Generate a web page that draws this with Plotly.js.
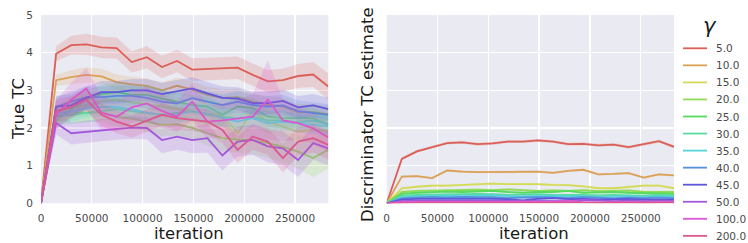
<!DOCTYPE html>
<html>
<head>
<meta charset="utf-8">
<script src="https://cdn.plot.ly/plotly-3.0.1.min.js"></script>
<style>
html,body{margin:0;padding:0;background:#fff;}
#chart{width:748px;height:243px;}
</style>
</head>
<body>
<div id="chart"></div>
<script>
// ---------------- DATA ----------------
const iterations = [0, 14880, 29760, 44640, 59520, 74400, 89280, 104160, 119040, 133920,
  148800, 163680, 178560, 193440, 208320, 223200, 238080, 252960, 267840, 282720];
const gammaLabels = ["5.0", "10.0", "15.0", "20.0", "25.0", "30.0", "35.0", "40.0", "45.0", "50.0", "100.0", "200.0"];
const xTickVals = [0, 50000, 100000, 150000, 200000, 250000];
const xTickText = ["0", "50000", "100000", "150000", "200000", "250000"];
const yTickVals = [0, 1, 2, 3, 4, 5];

// True TC (left panel): mean per gamma
const trueTC_5   = [0, 3.97, 4.20, 4.22, 4.14, 4.12, 3.75, 3.88, 3.62, 3.78, 3.55, 3.56, 3.58, 3.60, 3.41, 3.24, 3.27, 3.38, 3.42, 3.10];
const trueTC_10  = [0, 3.27, 3.35, 3.41, 3.37, 3.22, 3.16, 3.12, 3.00, 3.12, 3.02, 2.88, 2.80, 2.82, 2.70, 2.62, 2.57, 2.42, 2.42, 2.37];
const trueTC_15  = [0, 2.35, 2.55, 2.60, 2.72, 2.75, 2.68, 2.64, 2.57, 2.52, 2.45, 2.38, 2.35, 1.86, 2.45, 2.17, 2.04, 1.90, 1.95, 1.93];
const trueTC_20  = [0, 2.30, 2.42, 2.40, 2.42, 2.30, 2.25, 2.17, 2.08, 2.10, 2.00, 1.86, 1.73, 1.70, 1.68, 1.60, 1.50, 1.37, 1.20, 1.42];
const trueTC_25  = [0, 2.20, 2.50, 2.75, 2.90, 2.95, 2.88, 2.88, 2.78, 2.70, 2.61, 2.57, 2.35, 2.57, 2.53, 2.30, 2.26, 2.26, 2.26, 2.08];
const trueTC_30  = [0, 2.30, 2.35, 2.40, 2.45, 2.50, 2.45, 2.40, 2.35, 2.40, 2.45, 2.35, 2.30, 2.25, 2.30, 2.20, 2.20, 2.15, 2.20, 2.10];
const trueTC_35  = [0, 2.40, 2.42, 2.52, 2.55, 2.55, 2.50, 2.40, 2.35, 2.36, 2.44, 2.38, 2.26, 2.17, 2.26, 2.13, 2.17, 2.13, 2.08, 2.04];
const trueTC_40  = [0, 2.55, 2.70, 2.82, 2.82, 2.85, 2.85, 2.80, 2.70, 2.65, 2.79, 2.70, 2.61, 2.70, 2.61, 2.57, 2.60, 2.45, 2.40, 2.35];
const trueTC_45  = [0, 2.57, 2.60, 2.80, 2.95, 2.95, 3.00, 3.00, 2.90, 2.97, 3.05, 2.92, 2.80, 2.78, 2.66, 2.66, 2.72, 2.55, 2.60, 2.50];
const trueTC_50  = [0, 2.13, 1.86, 1.90, 1.95, 1.99, 2.01, 2.00, 1.68, 1.77, 1.68, 1.73, 1.27, 1.64, 1.68, 1.51, 1.46, 1.15, 1.60, 1.46];
const trueTC_100 = [0, 2.35, 2.75, 3.05, 2.40, 2.30, 2.55, 2.65, 2.45, 2.30, 2.70, 2.17, 2.20, 2.25, 2.30, 2.75, 2.20, 2.13, 1.99, 1.75];
const trueTC_200 = [0, 2.45, 2.55, 2.75, 2.35, 2.17, 2.04, 2.20, 2.35, 2.26, 2.22, 2.17, 1.95, 1.42, 1.77, 1.64, 1.20, 1.64, 1.73, 1.55];

// True TC confidence band half-widths
const trueCI_5   = [0.05, 0.20, 0.25, 0.28, 0.28, 0.28, 0.28, 0.30, 0.30, 0.30, 0.30, 0.30, 0.30, 0.30, 0.30, 0.30, 0.30, 0.32, 0.33, 0.35];
const trueCI_10  = [0.05, 0.15, 0.18, 0.20, 0.20, 0.20, 0.20, 0.20, 0.20, 0.22, 0.22, 0.22, 0.22, 0.22, 0.22, 0.22, 0.22, 0.22, 0.22, 0.22];
const trueCI_15  = [0.05, 0.25, 0.28, 0.30, 0.30, 0.30, 0.30, 0.30, 0.30, 0.30, 0.30, 0.30, 0.30, 0.35, 0.35, 0.30, 0.30, 0.30, 0.30, 0.30];
const trueCI_20  = [0.05, 0.22, 0.25, 0.25, 0.25, 0.25, 0.25, 0.28, 0.30, 0.30, 0.30, 0.32, 0.35, 0.35, 0.38, 0.40, 0.42, 0.45, 0.50, 0.50];
const trueCI_25  = [0.05, 0.22, 0.25, 0.25, 0.25, 0.25, 0.25, 0.25, 0.25, 0.25, 0.25, 0.25, 0.28, 0.28, 0.28, 0.28, 0.28, 0.28, 0.28, 0.30];
const trueCI_30  = [0.05, 0.22, 0.25, 0.25, 0.25, 0.25, 0.25, 0.25, 0.25, 0.25, 0.25, 0.25, 0.25, 0.25, 0.25, 0.25, 0.25, 0.25, 0.25, 0.25];
const trueCI_35  = [0.05, 0.22, 0.25, 0.25, 0.25, 0.25, 0.25, 0.25, 0.25, 0.25, 0.25, 0.25, 0.25, 0.25, 0.25, 0.25, 0.25, 0.25, 0.25, 0.25];
const trueCI_40  = [0.05, 0.25, 0.28, 0.28, 0.28, 0.28, 0.28, 0.28, 0.28, 0.28, 0.28, 0.28, 0.28, 0.28, 0.28, 0.28, 0.28, 0.28, 0.28, 0.28];
const trueCI_45  = [0.05, 0.28, 0.30, 0.30, 0.30, 0.30, 0.30, 0.30, 0.30, 0.30, 0.30, 0.30, 0.30, 0.30, 0.30, 0.30, 0.30, 0.30, 0.30, 0.30];
const trueCI_50  = [0.05, 0.30, 0.30, 0.30, 0.30, 0.30, 0.30, 0.30, 0.35, 0.35, 0.35, 0.38, 0.40, 0.40, 0.40, 0.42, 0.45, 0.45, 0.45, 0.45];
const trueCI_100 = [0.05, 0.40, 0.45, 0.55, 0.45, 0.40, 0.40, 0.45, 0.45, 0.40, 0.50, 0.45, 0.45, 0.50, 0.60, 1.05, 0.55, 0.45, 0.40, 0.40];
const trueCI_200 = [0.05, 0.30, 0.30, 0.30, 0.30, 0.30, 0.30, 0.30, 0.30, 0.30, 0.30, 0.32, 0.35, 0.35, 0.35, 0.35, 0.38, 0.38, 0.38, 0.38];

// Discriminator TC estimate (right panel): mean per gamma
const discTC_5   = [0, 1.18, 1.38, 1.50, 1.60, 1.62, 1.57, 1.59, 1.64, 1.64, 1.67, 1.64, 1.57, 1.58, 1.54, 1.56, 1.49, 1.57, 1.65, 1.50];
const discTC_10  = [0, 0.71, 0.72, 0.67, 0.87, 0.84, 0.83, 0.83, 0.82, 0.84, 0.84, 0.81, 0.86, 0.89, 0.77, 0.78, 0.80, 0.68, 0.77, 0.74];
const discTC_15  = [0, 0.40, 0.44, 0.47, 0.47, 0.49, 0.51, 0.52, 0.51, 0.52, 0.51, 0.49, 0.48, 0.45, 0.40, 0.40, 0.44, 0.47, 0.47, 0.40];
const discTC_20  = [0, 0.30, 0.33, 0.34, 0.33, 0.35, 0.36, 0.35, 0.37, 0.35, 0.33, 0.34, 0.33, 0.35, 0.32, 0.33, 0.34, 0.30, 0.31, 0.30];
const discTC_25  = [0, 0.25, 0.28, 0.30, 0.31, 0.30, 0.32, 0.33, 0.30, 0.28, 0.30, 0.30, 0.33, 0.28, 0.29, 0.30, 0.28, 0.27, 0.26, 0.25];
const discTC_30  = [0, 0.20, 0.22, 0.23, 0.25, 0.24, 0.25, 0.24, 0.22, 0.23, 0.24, 0.22, 0.23, 0.22, 0.21, 0.22, 0.21, 0.20, 0.22, 0.20];
const discTC_35  = [0, 0.16, 0.18, 0.20, 0.20, 0.19, 0.20, 0.21, 0.19, 0.18, 0.19, 0.20, 0.18, 0.19, 0.17, 0.18, 0.19, 0.17, 0.18, 0.17];
const discTC_40  = [0, 0.13, 0.15, 0.16, 0.15, 0.17, 0.16, 0.16, 0.14, 0.15, 0.16, 0.15, 0.14, 0.16, 0.14, 0.13, 0.15, 0.14, 0.15, 0.14];
const discTC_45  = [0, 0.10, 0.12, 0.12, 0.13, 0.12, 0.14, 0.12, 0.11, 0.08, 0.12, 0.14, 0.11, 0.12, 0.10, 0.11, 0.12, 0.10, 0.11, 0.10];
const discTC_50  = [0, 0.06, 0.07, 0.07, 0.08, 0.07, 0.08, 0.07, 0.06, 0.07, 0.08, 0.07, 0.06, 0.09, 0.07, 0.06, 0.07, 0.06, 0.07, 0.06];
const discTC_100 = [0, 0.03, 0.03, 0.04, 0.03, 0.04, 0.03, 0.03, 0.04, 0.03, 0.03, 0.04, 0.07, 0.03, 0.02, 0.03, 0.03, 0.02, 0.03, 0.03];
const discTC_200 = [0, 0.02, 0.02, 0.02, 0.02, 0.02, 0.02, 0.02, 0.02, 0.02, 0.02, 0.02, 0.02, 0.02, 0.02, 0.02, 0.02, 0.02, 0.02, 0.02];
// Discriminator band half-width per gamma
const discCI = [0.04, 0.03, 0.03, 0.03, 0.03, 0.03, 0.03, 0.03, 0.03, 0.02, 0.02, 0.02];

// ---------------- STYLE ----------------
const palette = ['#db5f57', '#dba157', '#d3db57', '#91db57', '#57db5f', '#57dba1',
                 '#57d3db', '#5791db', '#5f57db', '#a157db', '#db57d3', '#db5791'];
const W = 748, H = 243;
const FONT = 'DejaVu Sans, Liberation Sans, sans-serif';

const trueMeans = [trueTC_5, trueTC_10, trueTC_15, trueTC_20, trueTC_25, trueTC_30, trueTC_35, trueTC_40, trueTC_45, trueTC_50, trueTC_100, trueTC_200];
const trueCIs   = [trueCI_5, trueCI_10, trueCI_15, trueCI_20, trueCI_25, trueCI_30, trueCI_35, trueCI_40, trueCI_45, trueCI_50, trueCI_100, trueCI_200];
const discMeans = [discTC_5, discTC_10, discTC_15, discTC_20, discTC_25, discTC_30, discTC_35, discTC_40, discTC_45, discTC_50, discTC_100, discTC_200];

function rgba(hex, a) {
  const r = parseInt(hex.slice(1, 3), 16), g = parseInt(hex.slice(3, 5), 16), b = parseInt(hex.slice(5, 7), 16);
  return `rgba(${r},${g},${b},${a})`;
}

function bandTrace(xs, mean, half, color, xa, ya) {
  const up = mean.map((v, i) => v + (Array.isArray(half) ? half[i] : half));
  const lo = mean.map((v, i) => Math.max(0, v - (Array.isArray(half) ? half[i] : half)));
  return {
    x: xs.concat(xs.slice().reverse()),
    y: up.concat(lo.slice().reverse()),
    type: 'scatter', mode: 'lines', fill: 'toself',
    fillcolor: rgba(color, 0.2), line: {width: 0, color: 'rgba(0,0,0,0)'},
    hoverinfo: 'skip', showlegend: false, xaxis: xa, yaxis: ya
  };
}
function lineTrace(xs, mean, color, name, xa, ya) {
  return {
    x: xs, y: mean, type: 'scatter', mode: 'lines', name: name,
    line: {color: color, width: 1.8}, showlegend: false, xaxis: xa, yaxis: ya
  };
}

const traces = [];
gammaLabels.forEach((g, i) => {
  traces.push(bandTrace(iterations, trueMeans[i], trueCIs[i], palette[i], 'x', 'y'));
  traces.push(lineTrace(iterations, trueMeans[i], palette[i], g, 'x', 'y'));
});
gammaLabels.forEach((g, i) => {
  traces.push(bandTrace(iterations, discMeans[i], discCI[i], palette[i], 'x2', 'y2'));
  traces.push(lineTrace(iterations, discMeans[i], palette[i], g, 'x2', 'y2'));
});

const px = v => v / W;
const py = v => 1 - v / H;

const axisCommon = {
  showgrid: true, gridcolor: '#ffffff', gridwidth: 1.3,
  zeroline: false, showline: false, ticks: '',
  tickfont: {family: FONT, size: 10.5, color: '#4a4a4a'}
};
const xMax = iterations[iterations.length - 1];

const annotations = [
  {text: 'True TC', x: px(18), y: py(109), xref: 'paper', yref: 'paper', textangle: -90,
   showarrow: false, font: {family: FONT, size: 16.5, color: '#1a1a1a'}, xanchor: 'center', yanchor: 'middle'},
  {text: 'Discriminator TC estimate', x: px(368), y: py(115), xref: 'paper', yref: 'paper', textangle: -90,
   showarrow: false, font: {family: FONT, size: 16.5, color: '#1a1a1a'}, xanchor: 'center', yanchor: 'middle'},
  {text: 'iteration', x: px(189), y: py(233.5), xref: 'paper', yref: 'paper', borderpad: 0,
   showarrow: false, font: {family: FONT, size: 16.5, color: '#1a1a1a'}, xanchor: 'center', yanchor: 'middle'},
  {text: 'iteration', x: px(534), y: py(233.5), xref: 'paper', yref: 'paper', borderpad: 0,
   showarrow: false, font: {family: FONT, size: 16.5, color: '#1a1a1a'}, xanchor: 'center', yanchor: 'middle'},
  {text: '<i>γ</i>', x: px(710), y: py(26), xref: 'paper', yref: 'paper',
   showarrow: false, font: {family: 'DejaVu Sans', size: 21, color: '#1a1a1a'}, xanchor: 'center', yanchor: 'middle'}
];
const shapes = [];
gammaLabels.forEach((g, i) => {
  const yc = 48.3 + i * 17.05;
  shapes.push({type: 'line', xref: 'paper', yref: 'paper', x0: px(683), x1: px(707), y0: py(yc), y1: py(yc),
               line: {color: palette[i], width: 1.8}});
  annotations.push({text: g, x: px(714), y: py(yc), xref: 'paper', yref: 'paper', showarrow: false,
                    xanchor: 'left', yanchor: 'middle', font: {family: FONT, size: 10.5, color: '#4a4a4a'}});
});

const layout = {
  width: W, height: H,
  margin: {l: 0, r: 0, t: 0, b: 0, pad: 0},
  paper_bgcolor: '#ffffff', plot_bgcolor: '#EAEAF2',
  showlegend: false,
  font: {family: FONT},
  xaxis: Object.assign({}, axisCommon, {domain: [px(41), px(328.3)], range: [0, xMax], anchor: 'y',
    tickvals: xTickVals, ticktext: xTickText, ticklabelstandoff: 7}),
  yaxis: Object.assign({}, axisCommon, {domain: [py(203.3), py(15)], range: [0, 5], anchor: 'x',
    tickvals: yTickVals, ticklabelstandoff: 7}),
  xaxis2: Object.assign({}, axisCommon, {domain: [px(386.7), px(674)], range: [0, xMax], anchor: 'y2',
    tickvals: xTickVals, ticktext: xTickText, ticklabelstandoff: 7}),
  yaxis2: Object.assign({}, axisCommon, {domain: [py(203.3), py(15)], range: [0, 5], anchor: 'x2',
    tickvals: yTickVals, showticklabels: false}),
  annotations: annotations,
  shapes: shapes
};

Plotly.newPlot('chart', traces, layout, {staticPlot: true, displayModeBar: false});
</script>
</body>
</html>
